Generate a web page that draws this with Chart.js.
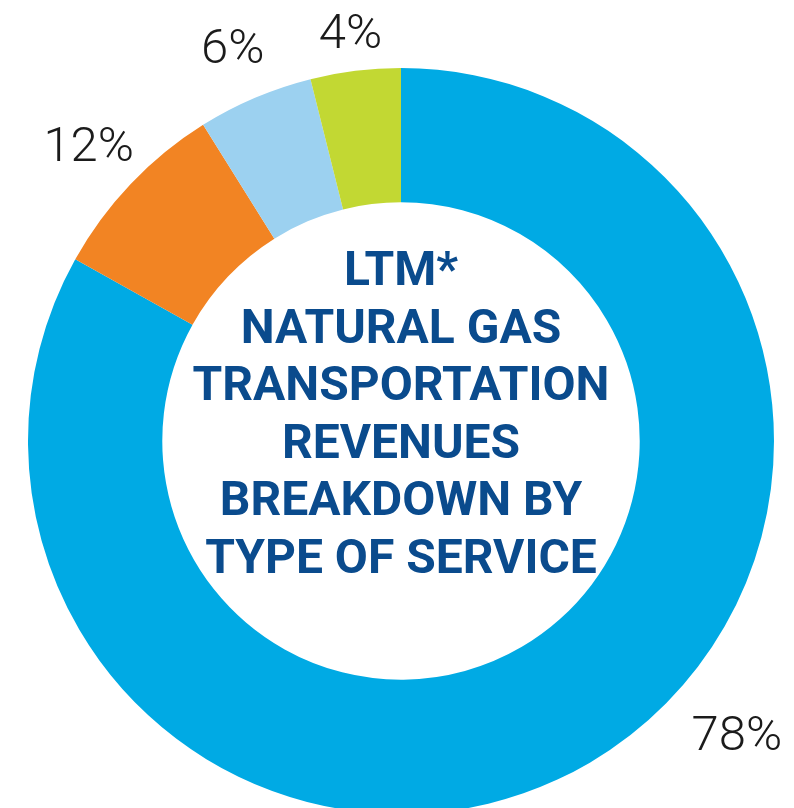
<!DOCTYPE html>
<html>
<head>
<meta charset="utf-8">
<script src="https://cdn.jsdelivr.net/npm/chart.js@4/dist/chart.umd.min.js"></script>
<style>
  html, body { margin: 0; padding: 0; background: #fff; overflow: hidden; }
  #wrap { width: 794px; height: 808px; overflow: hidden; }
</style>
</head>
<body>
<div id="wrap"><canvas id="chart" width="794" height="900"></canvas></div>
<script>
// slice sizes as drawn in the picture (clockwise from 12 o'clock)
const services = ['Firm', 'Interruptible', 'Other', 'Storage'];
const sliceShares = [83.1, 8.0, 5.0, 3.9];
// percentages printed next to the ring
const shareLabels = ['78%', '12%', '6%', '4%'];
const sliceColors = ['#00AAE4', '#F28423', '#9CD1F0', '#C2D833'];
const centerLines = ['LTM*', 'NATURAL GAS', 'TRANSPORTATION', 'REVENUES', 'BREAKDOWN BY', 'TYPE OF SERVICE'];

const ringLabels = {
  id: 'ringLabels',
  afterDraw(chart, args, opts) {
    const ctx = chart.ctx;
    const arcs = chart.getDatasetMeta(0).data;
    ctx.save();
    ctx.font = '300 49px Roboto';
    ctx.fillStyle = '#1b1b1b';
    ctx.textAlign = 'center';
    ctx.textBaseline = 'alphabetic';
    arcs.forEach((arc, i) => {
      const p = arc.getProps(['x', 'y', 'startAngle', 'endAngle', 'outerRadius'], true);
      let a = (p.startAngle + p.endAngle) / 2;
      if (opts.angles[i] != null) a = (opts.angles[i] - 90) * Math.PI / 180;
      const r = p.outerRadius + opts.gaps[i];
      const x = p.x + Math.cos(a) * r;
      const y = p.y + Math.sin(a) * r;
      ctx.fillText(shareLabels[i], x, y + 17.5);
    });

    // title in the hole
    const c = arcs[0];
    ctx.font = 'bold 48px Roboto';
    ctx.fillStyle = '#0A4B8D';
    centerLines.forEach((line, i) => {
      ctx.fillText(line, c.x, c.y - 156 + i * 57.6);
    });
    ctx.restore();
  }
};

new Chart(document.getElementById('chart'), {
  type: 'doughnut',
  data: {
    labels: services,
    datasets: [{
      data: sliceShares,
      backgroundColor: sliceColors,
      borderWidth: 0,
      hoverOffset: 0
    }]
  },
  options: {
    responsive: false,
    animation: false,
    cutout: '64%',
    layout: { padding: { left: 28, right: 20, top: 68, bottom: 86 } },
    plugins: {
      legend: { display: false },
      tooltip: { enabled: false },
      ringLabels: {
        angles: [131, null, null, null],
        gaps: [72, 58, 57, 41]
      }
    }
  },
  plugins: [ringLabels]
});
</script>
</body>
</html>
